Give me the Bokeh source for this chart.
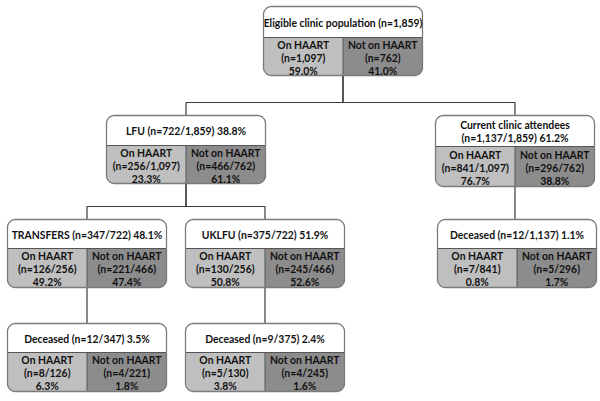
import numpy as np
from bokeh.plotting import figure
from bokeh.models import Range1d
from bokeh.core.properties import value
from bokeh.embed import file_html
from bokeh.resources import INLINE

# ---------------- data ----------------
node_titles = [
    "Eligible clinic population (n=1,859)",
    "LFU (n=722/1,859) 38.8%",
    "Current clinic attendees\n(n=1,137/1,859) 61.2%",
    "TRANSFERS (n=347/722) 48.1%",
    "UKLFU (n=375/722) 51.9%",
    "Deceased (n=12/1,137) 1.1%",
    "Deceased (n=12/347) 3.5%",
    "Deceased (n=9/375) 2.4%",
]
on_haart_n = ["n=1,097", "n=256/1,097", "n=841/1,097", "n=126/256",
              "n=130/256", "n=7/841", "n=8/126", "n=5/130"]
on_haart_pct = [59.0, 23.3, 76.7, 49.2, 50.8, 0.8, 6.3, 3.8]
not_haart_n = ["n=762", "n=466/762", "n=296/762", "n=221/466",
               "n=245/466", "n=5/296", "n=4/221", "n=4/245"]
not_haart_pct = [41.0, 61.1, 38.8, 47.4, 52.6, 1.7, 1.8, 1.6]
parents = [None, 0, 0, 1, 1, 2, 3, 4]

# ---------------- layout (reference pixel space, y down) ----------------
box_left = [263, 106, 435, 7, 185, 437, 7, 185]
box_top = [6, 115, 115, 219, 219, 219, 323, 323]
header_h = [31, 30, 31, 29, 29, 29, 29, 29]
lower_h = [38, 38, 40, 39, 39, 39, 39, 39]
BOX_W = 159
R = 8
LINE_GAP = 13

LIGHT = "#bfbfbf"
DARK = "#8c8c8c"
BORDER = "#7a7a7a"
TEXT = "#111111"
FONT = dict(text_font=value("Lato"), text_font_style="bold", text_font_size="10.4px")


def rrect(x0, x1, y0, y1, rtl, rtr, rbr, rbl):
    xs, ys = [], []

    def arc(cx, cy, r, a0, a1):
        if r == 0:
            xs.append(cx)
            ys.append(cy)
            return
        for a in np.linspace(np.radians(a0), np.radians(a1), 10):
            xs.append(cx + r * np.cos(a))
            ys.append(cy + r * np.sin(a))

    arc(x0 + rtl, y0 + rtl, rtl, 180, 270)
    arc(x1 - rtr, y0 + rtr, rtr, 270, 360)
    arc(x1 - rbr, y1 - rbr, rbr, 0, 90)
    arc(x0 + rbl, y1 - rbl, rbl, 90, 180)
    return xs, ys


p = figure(width=600, height=401, output_backend="svg", toolbar_location=None,
           x_range=Range1d(0, 600), y_range=Range1d(401, 0), min_border=0)
p.axis.visible = False
p.grid.visible = False
p.outline_line_color = None
p.background_fill_color = "white"

n = len(node_titles)
geo = []
for i in range(n):
    x0 = box_left[i]
    x1 = x0 + BOX_W
    y0 = box_top[i]
    yh = y0 + header_h[i]
    y1 = yh + lower_h[i]
    xm = (x0 + x1) / 2
    geo.append((x0, x1, xm, y0, yh, y1))

# connectors
cx, cy = [], []
for i in range(n):
    par = parents[i]
    if par is None:
        continue
    children = [j for j in range(n) if parents[j] == par]
    px = geo[par][2]
    pb = geo[par][5]
    ct = geo[i][3]
    chx = geo[i][2]
    if len(children) == 1:
        cx.append([px, px])
        cy.append([pb, ct])
    else:
        bus = ct - 13
        cx.append([px, px, chx, chx])
        cy.append([pb, bus, bus, ct])
p.multi_line(cx, cy, line_color="#3a3a3a", line_width=1.2)

# boxes
full_x, full_y, l_x, l_y, r_x, r_y = [], [], [], [], [], []
sep_x, sep_y = [], []
for (x0, x1, xm, y0, yh, y1) in geo:
    fx, fy = rrect(x0, x1, y0, y1, R, R, R, R)
    full_x.append(fx); full_y.append(fy)
    lx, ly = rrect(x0, xm, yh, y1, 0, 0, 0, R)
    l_x.append(lx); l_y.append(ly)
    rx, ry = rrect(xm, x1, yh, y1, 0, 0, R, 0)
    r_x.append(rx); r_y.append(ry)
    sep_x.append([x0, x1]); sep_y.append([yh, yh])
    sep_x.append([xm, xm]); sep_y.append([yh, y1])

p.patches(full_x, full_y, fill_color="white", line_color=None)
p.patches(l_x, l_y, fill_color=LIGHT, line_color=None)
p.patches(r_x, r_y, fill_color=DARK, line_color=None)
p.multi_line(sep_x, sep_y, line_color="#555555", line_width=1)
p.patches(full_x, full_y, fill_color=None, line_color=BORDER, line_width=1.3)

# texts: one glyph per line, stacked about the section centre
# (a blank first entry works around the first label being measured before the font loads)
tx, ty, tt = [300], [399], [" "]


def add_block(xc, yc, lines):
    k = len(lines)
    for j, s in enumerate(lines):
        tx.append(xc)
        ty.append(yc + (j - (k - 1) / 2) * LINE_GAP)
        tt.append(s)


for i, (x0, x1, xm, y0, yh, y1) in enumerate(geo):
    add_block(xm, (y0 + yh) / 2 + 0.5, node_titles[i].split("\n"))
    yc = (yh + y1) / 2 + 1
    add_block((x0 + xm) / 2, yc,
              ["On HAART", f"({on_haart_n[i]})", f"{on_haart_pct[i]:.1f}%"])
    add_block((xm + x1) / 2, yc,
              ["Not on HAART", f"({not_haart_n[i]})", f"{not_haart_pct[i]:.1f}%"])

p.text(x=tx, y=ty, text=tt, text_align="center", text_baseline="middle",
       text_color=TEXT, **FONT)

open("out.html", "w").write(file_html(p, INLINE))
